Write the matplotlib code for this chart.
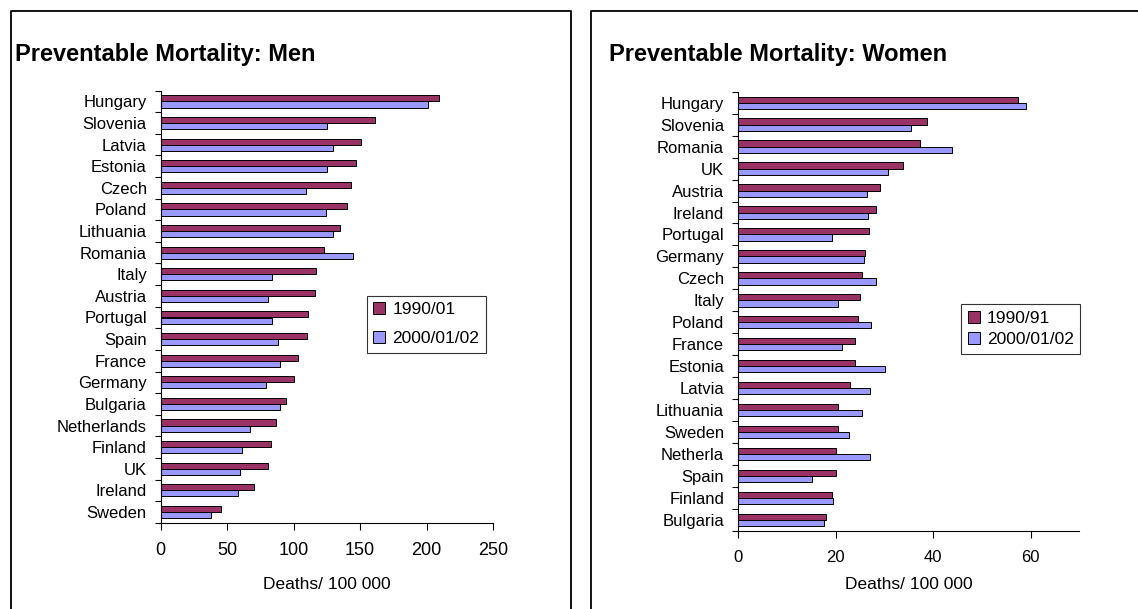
import numpy as np
import matplotlib.pyplot as plt
from matplotlib.lines import Line2D

plt.rcParams['font.family'] = ['Liberation Sans', 'DejaVu Sans']

# Men: deaths per 100 000
men_countries = ["Hungary", "Slovenia", "Latvia", "Estonia", "Czech", "Poland",
                 "Lithuania", "Romania", "Italy", "Austria", "Portugal", "Spain",
                 "France", "Germany", "Bulgaria", "Netherlands", "Finland", "UK",
                 "Ireland", "Sweden"]
men_1990 = [209, 161, 151, 147, 143, 140, 135, 123, 117, 116,
            111, 110, 103, 100, 94, 87, 83, 81, 70, 45]
men_2000 = [201, 125, 130, 125, 109, 124, 130, 145, 84, 81,
            84, 88, 90, 79, 90, 67, 61, 60, 58, 38]

# Women: deaths per 100 000
women_countries = ["Hungary", "Slovenia", "Romania", "UK", "Austria", "Ireland",
                   "Portugal", "Germany", "Czech", "Italy", "Poland", "France",
                   "Estonia", "Latvia", "Lithuania", "Sweden", "Netherla", "Spain",
                   "Finland", "Bulgaria"]
women_1990 = [57.5, 38.7, 37.4, 33.9, 29.1, 28.4, 26.8, 26.1, 25.5, 25.0,
              24.7, 23.9, 23.9, 22.9, 20.6, 20.6, 20.2, 20.0, 19.2, 18.1]
women_2000 = [59.0, 35.5, 43.8, 30.7, 26.5, 26.7, 19.3, 25.9, 28.4, 20.6,
              27.3, 21.3, 30.2, 27.0, 25.5, 22.7, 27.0, 15.1, 19.5, 17.7]

red = "#993366"
blue = "#9999FF"
W, H = 1138, 609

fig = plt.figure(figsize=(W / 100, H / 100), dpi=100)


def px(x0, y_top, x1, y_bot):
    # pixel box -> figure fraction rect
    return [x0 / W, 1 - y_bot / H, (x1 - x0) / W, (y_bot - y_top) / H]


def panel(rect, countries, v1, v2, xmax, xticks, labels, legend_pos,
          xtick_size, labelpad, spacing):
    ax = fig.add_axes(rect)
    n = len(countries)
    y = np.arange(n)
    h = 0.28
    ax.barh(y - h / 2, v1, height=h, color=red, edgecolor="black", linewidth=0.7, label=labels[0])
    ax.barh(y + h / 2, v2, height=h, color=blue, edgecolor="black", linewidth=0.7, label=labels[1])
    ax.set_ylim(n - 0.5, -0.5)
    ax.set_xlim(0, xmax)
    # ticks at category boundaries, labels at centres
    ax.set_yticks(np.arange(n + 1) - 0.5)
    ax.set_yticklabels([])
    ax.set_yticks(y, minor=True)
    ax.set_yticklabels(countries, minor=True, fontsize=12)
    ax.tick_params(axis="y", which="major", direction="out", length=4, width=0.8)
    ax.tick_params(axis="y", which="minor", length=0, pad=10)
    ax.set_xticks(xticks)
    ax.tick_params(axis="x", direction="out", length=5, width=0.8, pad=9, labelsize=xtick_size)
    ax.set_xlabel("Deaths/ 100 000", fontsize=12.5, labelpad=labelpad)
    for s in ["top", "right"]:
        ax.spines[s].set_visible(False)
    for s in ["left", "bottom"]:
        ax.spines[s].set_linewidth(0.8)
    leg = fig.legend(*ax.get_legend_handles_labels(), loc="upper left",
                     bbox_to_anchor=legend_pos, fontsize=12.5, frameon=True,
                     fancybox=False, edgecolor="black", handlelength=0.7,
                     handleheight=0.7, handletextpad=0.4, borderpad=0.38,
                     labelspacing=spacing, borderaxespad=0)
    leg.get_frame().set_linewidth(0.8)
    return ax


panel(px(160.7, 90.7, 493, 522.7), men_countries, men_1990, men_2000, 250,
      [0, 50, 100, 150, 200, 250], ["1990/01", "2000/01/02"],
      (366.7 / W, 1 - 295.7 / H), 13, 13, 0.8)
panel(px(738, 91.7, 1079.3, 531), women_countries, women_1990, women_2000, 70,
      [0, 20, 40, 60], ["1990/91", "2000/01/02"],
      (961 / W, 1 - 304.3 / H), 12, 8, 0.35)

fig.text(14.6 / W, 1 - 54 / H, "Preventable Mortality: Men", fontsize=17,
         fontweight="bold", ha="left", va="center")
fig.text(609 / W, 1 - 54 / H, "Preventable Mortality: Women", fontsize=17,
         fontweight="bold", ha="left", va="center")

# panel frames
for xs, ys in [([10.7, 10.7, 571, 571], [H, 10.7, 10.7, H]),
               ([590.7, 590.7, W], [H, 10.7, 10.7])]:
    fig.add_artist(Line2D([x / W for x in xs], [1 - y / H for y in ys],
                          color="black", linewidth=1.3))

fig.savefig("out.png", dpi=100)
